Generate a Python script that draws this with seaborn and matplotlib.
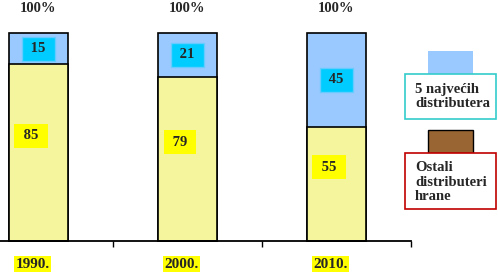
import matplotlib
matplotlib.use("Agg")
import matplotlib.pyplot as plt
import matplotlib.transforms as mtransforms
from matplotlib.patches import Rectangle
import seaborn as sns
import pandas as pd

years = ["1990.", "2000.", "2010."]
top5 = [15, 21, 45]
others = [85, 79, 55]
total_labels = ["100%", "100%", "100%"]
legend_labels = ["5 najvećih\ndistributera", "Ostali\ndistributeri\nhrane"]

sns.set_style("white")
plt.rcParams["font.family"] = ["Liberation Serif", "DejaVu Serif"]
plt.rcParams["font.weight"] = "bold"

W, H = 498, 280
fig = plt.figure(figsize=(W / 100, H / 100), dpi=100)
ax = fig.add_axes([0, 39 / H, 411 / W, 208 / H])

df = pd.DataFrame({"year": years, "top5": top5, "others": others})
df["total"] = df["top5"] + df["others"]

sns.barplot(data=df, x="year", y="total", color="#99C9FF", saturation=1,
            width=0.40, edgecolor="black", linewidth=1.2, ax=ax, clip_on=False)
sns.barplot(data=df, x="year", y="others", color="#F5F59E", saturation=1,
            width=0.40, edgecolor="black", linewidth=1.2, ax=ax, clip_on=False)

ax.set_xlim(-0.258, 2.5)
ax.set_ylim(0, 100)
ax.set_xlabel("")
ax.set_ylabel("")
ax.set_yticks([])
for s in ["left", "right", "top"]:
    ax.spines[s].set_visible(False)
ax.spines["bottom"].set_linewidth(1.3)
ax.spines["bottom"].set_color("black")

ax.set_xticks(range(len(years)))
ax.set_xticklabels(years, fontsize=11, fontweight="bold")
ax.tick_params(axis="x", which="major", length=0, pad=12, bottom=True)
ax.set_xticks([0.5, 1.5, 2.5], minor=True)
ax.tick_params(axis="x", which="minor", length=4, width=1, color="black",
               direction="out", bottom=True)
off = mtransforms.ScaledTranslation(-6 / 100, 0, fig.dpi_scale_trans)
for lab in ax.get_xticklabels():
    lab.set_bbox(dict(boxstyle="square,pad=0.08", facecolor="#FFFF00", edgecolor="none"))
    lab.set_transform(lab.get_transform() + off)

for i, (t, o, tl) in enumerate(zip(top5, others, total_labels)):
    ax.text(i, o + t / 2, f"\u00a0{t}\u00a0", ha="center", va="center", fontsize=10.5,
            fontweight="bold",
            bbox=dict(boxstyle="square,pad=0.38", facecolor="#00CCFF", edgecolor="#66CCFF", linewidth=1))
    ax.text(i - 0.05, o / 2 + 8, f"\u00a0{o}\u00a0", ha="center", va="center", fontsize=10.5,
            fontweight="bold",
            bbox=dict(boxstyle="square,pad=0.38", facecolor="#FFFF00", edgecolor="none"))
    ax.text(i, 100 + 12, tl, ha="center", va="center", fontsize=10.5,
            fontweight="bold", clip_on=False)

def px_rect(x0, y0, x1, y1, **kw):
    r = Rectangle((x0 / W, (H - y1) / H), (x1 - x0) / W, (y1 - y0) / H,
                  transform=fig.transFigure, **kw)
    fig.add_artist(r)

px_rect(428, 51, 473, 74, facecolor="#99C9FF", edgecolor="none")
px_rect(405, 74, 496, 119, facecolor="white", edgecolor="#33CCCC", linewidth=1.2)
fig.text(415 / W, (H - 83) / H, legend_labels[0], ha="left", va="top",
         fontsize=10.5, fontweight="bold", linespacing=1.15)

px_rect(428, 130, 473, 153, facecolor="#996633", edgecolor="black", linewidth=1)
px_rect(405, 153, 496, 209, facecolor="white", edgecolor="#C00000", linewidth=1.2)
fig.text(415 / W, (H - 161) / H, legend_labels[1], ha="left", va="top",
         fontsize=10.5, fontweight="bold", linespacing=1.15)

fig.savefig("out.png", dpi=100)
